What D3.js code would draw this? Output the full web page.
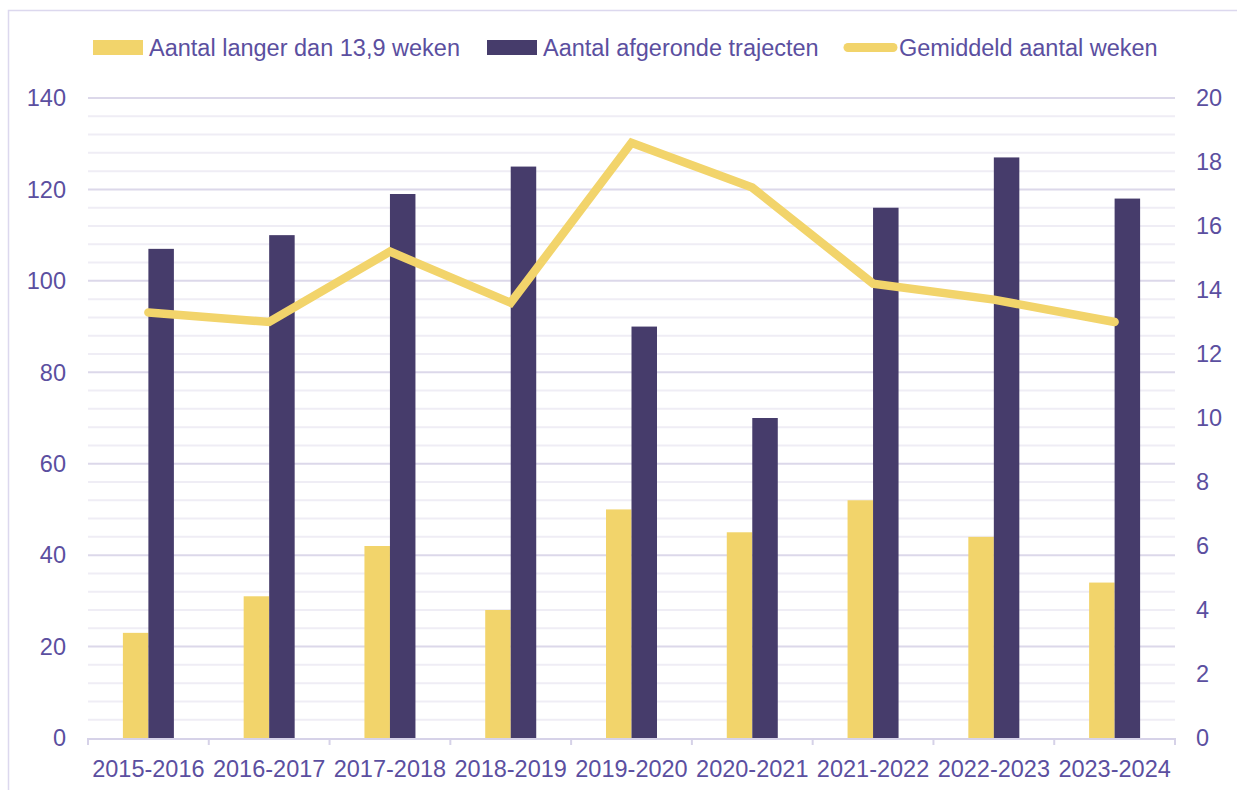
<!DOCTYPE html>
<html>
<head>
<meta charset="utf-8">
<script src="https://cdn.jsdelivr.net/npm/d3@7"></script>
<style>
	body { margin: 0; background: #fff; }
	text { font-family: "Liberation Sans", Arial, sans-serif; }
</style>
</head>
<body>
<div id="chart"></div>
<script>
const categories = ['2015-2016', '2016-2017', '2017-2018', '2018-2019', '2019-2020', '2020-2021', '2021-2022', '2022-2023', '2023-2024'];
const langer = [23, 31, 42, 28, 50, 45, 52, 44, 34];
const afgerond = [107, 110, 119, 125, 90, 70, 116, 127, 118];
const gemiddeld = [13.3, 13.0, 15.2, 13.6, 18.6, 17.2, 14.2, 13.7, 13.0];
const left_ticks = [0, 20, 40, 60, 80, 100, 120, 140];
const right_ticks = [0, 2, 4, 6, 8, 10, 12, 14, 16, 18, 20];
const series_names = ['Aantal langer dan 13,9 weken', 'Aantal afgeronde trajecten', 'Gemiddeld aantal weken'];

const yellow = '#F2D46B';
const purple = '#463C6B';
const text_colour = '#5B4FA0';
const font_size = '23.5px';

const width = 1237;
const height = 790;
const margin = { top: 98, right: 62, bottom: 52, left: 88 };

const svg = d3.select('#chart').append('svg')
	.attr('width', width)
	.attr('height', height);

// outer chart border
svg.append('path')
	.attr('d', `M8.5,${height} V10.5 H${width}`)
	.attr('fill', 'none')
	.attr('stroke', '#DCD8EE')
	.attr('stroke-width', 1.5);

const x = d3.scaleBand()
	.domain(categories)
	.range([margin.left, width - margin.right]);

const y = d3.scaleLinear()
	.domain([0, 140])
	.range([height - margin.bottom, margin.top]);

const y2 = d3.scaleLinear()
	.domain([0, 20])
	.range([height - margin.bottom, margin.top]);

// gridlines: minor every 4, major every 20
const grid = svg.append('g');
grid.selectAll('line')
	.data(d3.range(4, 141, 4))
	.enter()
	.append('line')
	.attr('x1', margin.left)
	.attr('x2', width - margin.right)
	.attr('y1', d => y(d))
	.attr('y2', d => y(d))
	.attr('stroke', d => d % 20 == 0 ? '#DCD8EA' : '#EFEDF5')
	.attr('stroke-width', 2);

// bars
const bar_width = 25.5;
const bars = svg.append('g');
bars.selectAll('rect.langer')
	.data(langer)
	.enter()
	.append('rect')
	.attr('x', (d, i) => x(categories[i]) + x.bandwidth() / 2 - bar_width)
	.attr('y', d => y(d))
	.attr('width', bar_width)
	.attr('height', d => y(0) - y(d))
	.attr('fill', yellow);

bars.selectAll('rect.afgerond')
	.data(afgerond)
	.enter()
	.append('rect')
	.attr('x', (d, i) => x(categories[i]) + x.bandwidth() / 2)
	.attr('y', d => y(d))
	.attr('width', bar_width)
	.attr('height', d => y(0) - y(d))
	.attr('fill', purple);

// x axis line + ticks
const axis = svg.append('g');
axis.append('line')
	.attr('x1', margin.left)
	.attr('x2', width - margin.right)
	.attr('y1', y(0) + 1)
	.attr('y2', y(0) + 1)
	.attr('stroke', '#D6D2E8')
	.attr('stroke-width', 2);

axis.selectAll('line.tick')
	.data(categories.concat(['_end']))
	.enter()
	.append('line')
	.attr('x1', (d, i) => margin.left + i * x.bandwidth())
	.attr('x2', (d, i) => margin.left + i * x.bandwidth())
	.attr('y1', y(0))
	.attr('y2', y(0) + 7)
	.attr('stroke', '#D6D2E8')
	.attr('stroke-width', 2);

axis.selectAll('text.cat')
	.data(categories)
	.enter()
	.append('text')
	.attr('x', d => x(d) + x.bandwidth() / 2)
	.attr('y', y(0) + 39)
	.attr('text-anchor', 'middle')
	.attr('font-size', font_size)
	.attr('fill', text_colour)
	.text(d => d);

svg.append('g').selectAll('text')
	.data(left_ticks)
	.enter()
	.append('text')
	.attr('x', 66)
	.attr('y', d => y(d))
	.attr('dy', '0.35em')
	.attr('text-anchor', 'end')
	.attr('font-size', font_size)
	.attr('fill', text_colour)
	.text(d => d);

svg.append('g').selectAll('text')
	.data(right_ticks)
	.enter()
	.append('text')
	.attr('x', 1196)
	.attr('y', d => y2(d))
	.attr('dy', '0.35em')
	.attr('text-anchor', 'start')
	.attr('font-size', font_size)
	.attr('fill', text_colour)
	.text(d => d);

// line
const line = d3.line()
	.x((d, i) => x(categories[i]) + x.bandwidth() / 2)
	.y(d => y2(d));

svg.append('path')
	.datum(gemiddeld)
	.attr('d', line)
	.attr('fill', 'none')
	.attr('stroke', yellow)
	.attr('stroke-width', 8.5)
	.attr('stroke-linecap', 'round')
	.attr('stroke-linejoin', 'miter');

// legend
const legend = svg.append('g');
const legend_items = [
	{ name: series_names[0], x: 93, type: 'rect', colour: yellow },
	{ name: series_names[1], x: 487, type: 'rect', colour: purple },
	{ name: series_names[2], x: 843, type: 'line', colour: yellow },
];
legend_items.forEach(item => {
	if (item.type == 'rect') {
		legend.append('rect')
			.attr('x', item.x)
			.attr('y', 40)
			.attr('width', 50)
			.attr('height', 15)
			.attr('fill', item.colour);
	} else {
		legend.append('line')
			.attr('x1', item.x + 5)
			.attr('x2', item.x + 50)
			.attr('y1', 47.5)
			.attr('y2', 47.5)
			.attr('stroke', item.colour)
			.attr('stroke-width', 9)
			.attr('stroke-linecap', 'round');
	}
	legend.append('text')
		.attr('x', item.x + 56)
		.attr('y', 47.5)
		.attr('dy', '0.35em')
		.attr('font-size', font_size)
		.attr('fill', text_colour)
		.text(item.name);
});
</script>
</body>
</html>
